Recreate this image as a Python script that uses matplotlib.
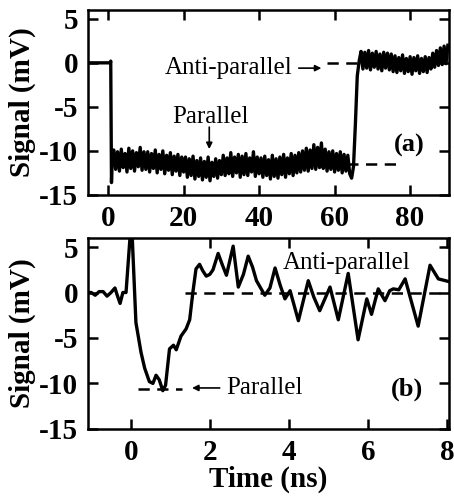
import numpy as np
import matplotlib
matplotlib.use("Agg")
import matplotlib.pyplot as plt

plt.rcParams['font.family'] = ['Liberation Serif', 'DejaVu Serif']
plt.rcParams['axes.unicode_minus'] = False

# ---- panel (a): long time scale (ns) ----
a_pre_t = [-5.0, 0.6, 0.7, 0.9, 1.1]
a_pre_v = [0.0, 0.0, 0.2, -13.6, -10.5]

a_low_t = np.arange(1.5, 64.01, 0.5)
a_low_v = [
    -9.9, -12.1, -10.1, -12.3, -9.8, -11.9, -10.3, -12.4, -9.7, -12.0, -10.0, -12.3, -10.2, -11.8, -9.6, -12.2, -10.1, -12.1,
    -10.1, -12.4, -10.3, -12.0, -9.9, -12.5, -10.4, -12.1, -10.0, -12.6, -10.5, -12.2, -10.2, -12.7, -10.6, -12.3, -10.4, -12.8, -10.7, -12.4,
    -10.7, -13.0, -10.9, -12.8, -10.6, -13.2, -11.1, -12.9, -10.8, -13.3, -11.2, -13.0, -10.7, -13.4, -11.3, -12.9, -10.9, -13.1, -11.1, -12.7,
    -10.5, -12.8, -10.8, -12.6, -10.2, -12.9, -10.7, -12.5, -10.4, -13.0, -10.6, -12.7, -10.3, -12.8, -10.8, -12.4, -10.1, -12.9, -10.7, -12.6,
    -10.8, -13.0, -10.6, -12.8, -11.0, -13.2, -10.5, -12.9, -10.9, -13.1, -10.7, -12.7, -10.4, -13.0, -10.8, -12.6, -10.3, -12.8, -10.5, -12.5,
    -10.2, -12.4, -10.0, -12.2, -9.7, -12.3, -9.9, -12.0, -9.3, -12.1, -9.6, -11.9, -9.1, -12.0,
    -9.8, -12.3, -10.1, -12.1, -10.0, -12.4, -10.3, -12.2, -10.1, -12.5, -10.4, -12.3, -10.5, -12.6,
]
a_step_t = [64.5, 65.0, 65.5, 66.0, 66.5]
a_step_v = [-13.1, -11.8, -7.0, -1.5, 0.2]

a_high_t = np.arange(67.0, 90.01, 0.5)
a_high_v = [
    1.3, -0.7, 1.2, -0.6, 1.4, -0.8, 1.1, -0.5, 1.3, -0.7, 1.0, -0.9, 1.2, -0.6, 1.1, -0.8, 1.0,
    -1.0, 0.8, -1.1, 0.6, -0.9, 0.9, -1.2, 0.5, -1.0, 0.7, -1.3, 0.6, -0.9, 0.8, -1.2, 0.5, -1.0, 0.7, -1.1, 0.6,
    -0.7, 1.1, -0.5, 1.4, -0.3, 1.7, -0.2, 1.9, -0.1, 2.0,
]

# ---- panel (b): short time scale (ns) ----
b_t = [-1.1, -1.0, -0.9, -0.8, -0.7, -0.6, -0.5, -0.4, -0.35, -0.27, -0.2, -0.12,
       -0.02, 0.04, 0.13, 0.26, 0.35, 0.47, 0.56, 0.64, 0.72, 0.81, 0.88, 0.98,
       1.08, 1.15, 1.27, 1.40, 1.49, 1.57, 1.65, 1.74, 1.82, 1.91, 2.0, 2.08,
       2.21, 2.32, 2.42, 2.59, 2.72, 2.85, 2.97, 3.08, 3.18, 3.39, 3.52, 3.65,
       3.78, 3.90, 4.03, 4.24, 4.49, 4.63, 4.78, 5.04, 5.25, 5.50, 5.75, 5.97,
       6.09, 6.26, 6.43, 6.55, 6.64, 6.78, 6.94, 7.27, 7.57, 7.78, 8.05]
b_v = [0.0, 0.0, -0.3, 0.1, 0.1, -0.4, 0.0, 0.5, -0.2, -1.2, 0.0, 0.0,
       6.0, 5.8, -3.3, -6.6, -8.3, -9.8, -10.0, -9.1, -9.6, -10.8, -10.2, -6.2,
       -5.8, -6.3, -4.8, -4.0, -3.0, 0.0, 2.6, 3.1, 2.4, 1.8, 2.0, 2.5,
       4.3, 3.0, 1.9, 5.1, 0.6, 2.0, 4.0, 2.8, 1.3, -0.3, 0.5, 2.7,
       0.8, -0.7, 0.2, -3.1, 1.3, -0.5, -2.0, 0.6, -3.0, 2.1, -5.2, -0.7,
       -2.4, 0.4, -0.9, 0.2, 0.4, 0.3, 1.5, -3.7, 3.0, 1.5, 1.2]

yticks = [-15, -10, -5, 0, 5]
a_xticks = [0, 20, 40, 60, 80]
b_xticks = [0, 2, 4, 6, 8]

fig = plt.figure(figsize=(4.54, 5.01), dpi=100)
ax1 = fig.add_axes([0.194, 0.611, 0.795, 0.369])
ax2 = fig.add_axes([0.194, 0.144, 0.795, 0.381])

lw = 2.4
dash = (0, (4.5, 3.0))
arrow = dict(arrowstyle='-|>', color='black', lw=1.2, mutation_scale=9,
             shrinkA=0, shrinkB=0)

a_t = np.concatenate([a_pre_t, a_low_t, a_step_t, a_high_t])
a_v = np.concatenate([a_pre_v, a_low_v, a_step_v, a_high_v])
ax1.plot(a_t, a_v, color='black', lw=lw, solid_joinstyle='round')
ax1.plot([58, 66], [0, 0], color='black', lw=1.8, linestyle=dash)
ax1.plot([58.3, 77], [-11.5, -11.5], color='black', lw=1.8, linestyle=dash)
ax1.text(15, -0.6, 'Anti-parallel', fontsize=18, va='center', ha='left')
ax1.annotate('', xy=(56.5, -0.6), xytext=(50.5, -0.6), arrowprops=arrow)
ax1.text(27, -6.2, 'Parallel', fontsize=18, va='center', ha='center')
ax1.annotate('', xy=(26.8, -9.8), xytext=(26.8, -7.3), arrowprops=arrow)
ax1.text(79.7, -9.4, '(a)', fontsize=19, fontweight='bold', va='center', ha='center')
ax1.set_xlim(-5.3, 90.3)
ax1.set_xticks(a_xticks)

ax2.plot(b_t, b_v, color='black', lw=lw, solid_joinstyle='round')
ax2.plot([1.37, 8.05], [0, 0], color='black', lw=1.8, linestyle=dash)
ax2.plot([0.18, 1.3], [-10.6, -10.6], color='black', lw=1.8, linestyle=dash)
ax2.annotate('', xy=(1.55, -10.5), xytext=(2.25, -10.5), arrowprops=arrow)
ax2.text(2.42, -10.5, 'Parallel', fontsize=18, va='center', ha='left')
ax2.text(3.85, 3.3, 'Anti-parallel', fontsize=18, va='center', ha='left')
ax2.text(7.0, -10.7, '(b)', fontsize=19, fontweight='bold', va='center', ha='center')
ax2.set_xlim(-1.08, 8.05)
ax2.set_xticks(b_xticks)
ax2.set_xlabel('Time (ns)', fontsize=21, fontweight='bold', labelpad=0)

for ax in (ax1, ax2):
    ax.set_ylim(-15, 6)
    ax.set_yticks(yticks)
    ax.set_ylabel('Signal (mV)', fontsize=21, fontweight='bold', labelpad=2)
    ax.tick_params(direction='in', top=True, right=True, length=7, width=1.8,
                   labelsize=21, pad=7)
    for lab in ax.get_xticklabels() + ax.get_yticklabels():
        lab.set_fontweight('bold')
    for sp in ax.spines.values():
        sp.set_linewidth(1.8)

fig.savefig('out.png', dpi=100)
